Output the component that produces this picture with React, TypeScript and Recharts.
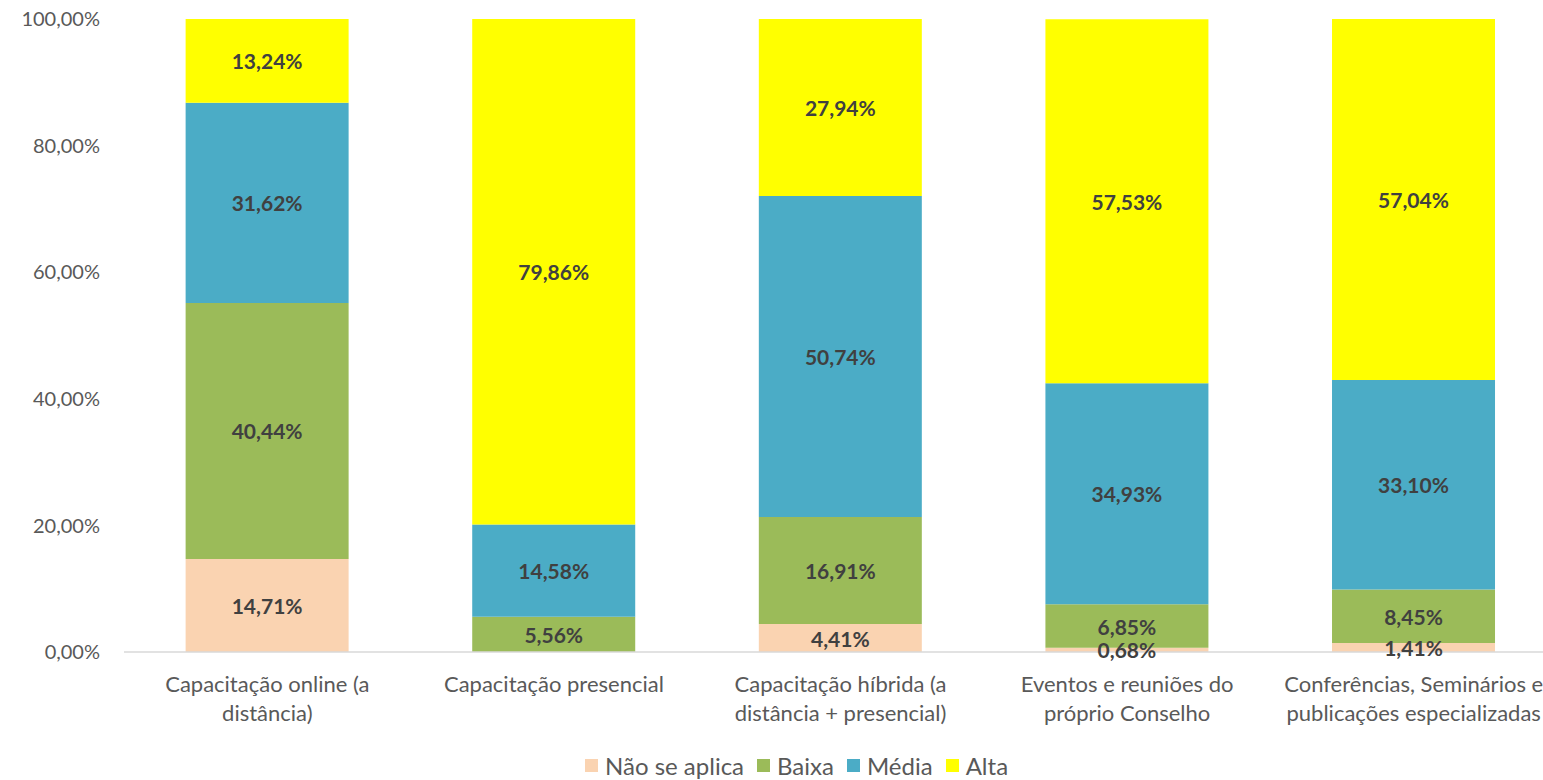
import React from 'react';
import { BarChart, Bar, XAxis, YAxis, LabelList, Legend } from 'recharts';

const categories = [
  'Capacitação online (a\ndistância)',
  'Capacitação presencial',
  'Capacitação híbrida (a\ndistância + presencial)',
  'Eventos e reuniões do\npróprio Conselho',
  'Conferências, Seminários e\npublicações especializadas',
];
const naoSeAplica = [14.71, 0, 4.41, 0.68, 1.41];
const baixa = [40.44, 5.56, 16.91, 6.85, 8.45];
const media = [31.62, 14.58, 50.74, 34.93, 33.1];
const alta = [13.24, 79.86, 27.94, 57.53, 57.04];
const yTicks = [0, 20, 40, 60, 80, 100];

const series = [
  { key: 'nao', name: 'Não se aplica', color: '#FAD3B1', values: naoSeAplica },
  { key: 'baixa', name: 'Baixa', color: '#9BBB59', values: baixa },
  { key: 'media', name: 'Média', color: '#4BACC6', values: media },
  { key: 'alta', name: 'Alta', color: '#FFFF00', values: alta },
];

const data = categories.map((c, i) => {
  const row: any = { name: c };
  series.forEach((s) => (row[s.key] = s.values[i]));
  return row;
});

const FONT = 'Lato, "Open Sans", sans-serif';
const fmt = (v: number) => `${v.toFixed(2).replace('.', ',')}%`;

const CatTick = (props: any) => {
  const { x, y, payload } = props;
  const lines = String(payload.value).split('\n');
  return (
    <text x={x} y={y} textAnchor="middle" fill="#595959" fontSize={22} fontFamily={FONT}>
      {lines.map((l, i) => (
        <tspan key={i} x={x} dy={i === 0 ? 40 : 29}>
          {l}
        </tspan>
      ))}
    </text>
  );
};

const renderLabel = (props: any) => {
  const { x, y, width, height, value } = props;
  if (!value) return null;
  return (
    <text
      x={x + width / 2}
      y={y + height / 2}
      textAnchor="middle"
      dominantBaseline="central"
      fill="#404040"
      fontSize={21}
      fontWeight="bold"
      fontFamily={FONT}
    >
      {fmt(value)}
    </text>
  );
};

const LegendContent = () => (
  <div style={{ display: 'flex', alignItems: 'center', fontFamily: FONT, fontSize: 24, color: '#595959' }}>
    {series.map((s) => (
      <div key={s.key} style={{ display: 'flex', alignItems: 'center', marginRight: 13 }}>
        <span style={{ display: 'inline-block', width: 13, height: 13, background: s.color, marginRight: 7 }} />
        <span>{s.name}</span>
      </div>
    ))}
  </div>
);

export default function App() {
  return (
    <div style={{ position: 'absolute', top: 0, left: 0, width: 1543, height: 780, overflow: 'hidden', background: '#fff' }}>
      <BarChart
        width={1560}
        height={780}
        data={data}
        margin={{ top: 19, right: 3, bottom: 0, left: 0 }}
        barCategoryGap="21.5%"
      >
        <XAxis
          dataKey="name"
          tick={<CatTick />}
          tickLine={false}
          tickSize={0}
          tickMargin={0}
          axisLine={{ stroke: '#D9D9D9', strokeWidth: 1.5 }}
          height={99}
          interval={0}
        />
        <YAxis
          domain={[0, 100]}
          ticks={yTicks}
          tickFormatter={fmt}
          axisLine={false}
          tickLine={false}
          tickSize={0}
          tickMargin={24}
          width={124}
          tick={{ fill: '#595959', fontSize: 20, fontFamily: FONT }}
        />
        {series.map((s) => (
          <Bar key={s.key} dataKey={s.key} name={s.name} stackId="a" fill={s.color} isAnimationActive={false}>
            <LabelList dataKey={s.key} content={renderLabel} />
          </Bar>
        ))}
        <Legend
          verticalAlign="bottom"
          content={<LegendContent />}
          wrapperStyle={{ left: 585, width: 'auto', bottom: 0 }}
        />
      </BarChart>
    </div>
  );
}
